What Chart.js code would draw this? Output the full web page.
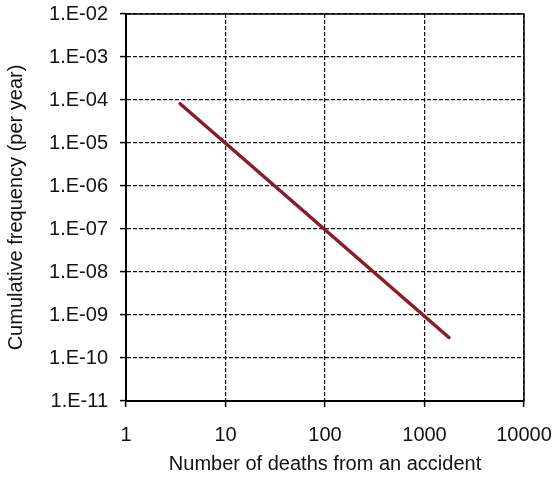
<!DOCTYPE html>
<html>
<head>
<meta charset="utf-8">
<script src="https://cdn.jsdelivr.net/npm/chart.js@4"></script>
<style>
    body { margin: 0; background: #fff; }
</style>
</head>
<body>
<canvas id="fnChart" width="555" height="478"></canvas>
<script>
// F-N line (end points of the straight line)
const deaths = [3.5, 1760];
const cumFreq = [8.2e-5, 3.0e-10];

// tick positions
const xTicks = [1, 10, 100, 1000, 10000];
const yTicks = [1e-11, 1e-10, 1e-9, 1e-8, 1e-7, 1e-6, 1e-5, 1e-4, 1e-3, 1e-2];

function expLabel(v) {
    const e = Math.round(Math.log10(v));
    const s = String(Math.abs(e)).padStart(2, '0');
    return '1.E' + (e < 0 ? '-' : '+') + s;
}

// solid frame round the plot area
const boxPlugin = {
    id: 'box',
    afterDraw(chart) {
        const a = chart.chartArea;
        const ctx = chart.ctx;
        ctx.save();
        ctx.strokeStyle = '#000';
        ctx.lineWidth = 1.5;
        ctx.strokeRect(a.left, a.top, a.right - a.left, a.bottom - a.top);
        ctx.restore();
    }
};

const font = { family: 'Liberation Sans, Arial, sans-serif', size: 20 };
const titleFont = { family: 'Liberation Sans, Arial, sans-serif', size: 20 };

const ctx = document.getElementById('fnChart');
const chart = new Chart(ctx, {
    type: 'line',
    data: {
        datasets: [{
            data: deaths.map((d, i) => ({ x: d, y: cumFreq[i] })),
            borderColor: '#8b1a2b',
            borderWidth: 3.5,
            borderCapStyle: 'round',
            pointRadius: 0,
            fill: false
        }]
    },
    options: {
        responsive: false,
        animation: false,
        layout: { padding: { top: 14, right: 31, left: 0, bottom: 0 } },
        plugins: { legend: { display: false }, tooltip: { enabled: false } },
        scales: {
            x: {
                type: 'logarithmic',
                min: 1,
                max: 10000,
                afterBuildTicks: (scale) => { scale.ticks = xTicks.map(v => ({ value: v })); },
                afterFit: (scale) => {
                    scale.height = 77;
                    scale.paddingLeft = 0;
                    scale.paddingRight = 0;
                },
                ticks: {
                    autoSkip: false,
                    maxRotation: 0,
                    color: '#111',
                    font: font,
                    padding: 16,
                    callback: (v) => String(v)
                },
                grid: { color: '#111', lineWidth: 1.2, tickLength: 6, tickColor: '#000', tickWidth: 1.5 },
                border: { display: true, color: '#000', width: 2, dash: [4, 2] },
                title: {
                    display: true,
                    text: 'Number of deaths from an accident',
                    color: '#111',
                    font: titleFont,
                    padding: { top: 0, bottom: 2 }
                }
            },
            y: {
                type: 'logarithmic',
                min: 1e-11,
                max: 1e-2,
                afterBuildTicks: (scale) => { scale.ticks = yTicks.map(v => ({ value: v })); },
                afterFit: (scale) => {
                    scale.width = 126;
                    scale.paddingTop = 0;
                    scale.paddingBottom = 0;
                },
                ticks: {
                    autoSkip: false,
                    color: '#111',
                    font: font,
                    padding: 12,
                    callback: (v) => expLabel(v)
                },
                grid: { color: '#111', lineWidth: 1.2, tickLength: 6, tickColor: '#000', tickWidth: 1.5 },
                border: { display: true, color: '#000', width: 2, dash: [4, 2] },
                title: {
                    display: true,
                    text: 'Cumulative frequency (per year)',
                    color: '#111',
                    font: titleFont,
                    padding: { top: 4, bottom: 0 }
                }
            }
        }
    },
    plugins: [boxPlugin]
});
</script>
</body>
</html>
